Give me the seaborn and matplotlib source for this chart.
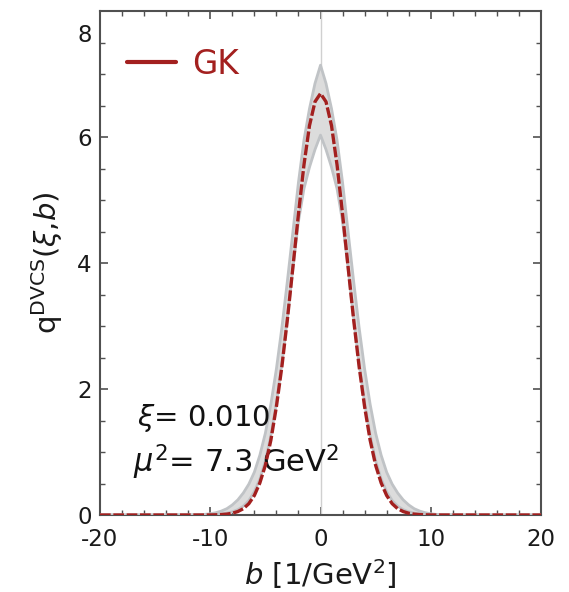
import numpy as np
import pandas as pd
import seaborn as sns
import matplotlib
matplotlib.use("Agg")
import matplotlib.pyplot as plt
from matplotlib.lines import Line2D
from matplotlib.transforms import ScaledTranslation

# impact-parameter grid [1/GeV^2]
b_vals = [-20, -15, -12, -11, -10.5, -10, -9.5, -9, -8.5, -8, -7.5, -7, -6.5, -6,
          -5.5, -5, -4.5, -4, -3.5, -3, -2.5, -2, -1.5, -1, -0.5, 0,
          0.5, 1, 1.5, 2, 2.5, 3, 3.5, 4, 4.5, 5, 5.5, 6, 6.5, 7, 7.5, 8,
          8.5, 9, 9.5, 10, 10.5, 11, 12, 15, 20]

# GK central curve
gk_central = [0, 0, 0, 0, 0, 0.001, 0.003, 0.007, 0.014, 0.028, 0.055, 0.10, 0.18, 0.31,
              0.51, 0.79, 1.19, 1.72, 2.36, 3.11, 3.94, 4.78, 5.56, 6.18, 6.56, 6.69,
              6.56, 6.18, 5.56, 4.78, 3.94, 3.11, 2.36, 1.72, 1.19, 0.79, 0.51, 0.31,
              0.18, 0.10, 0.055, 0.028, 0.014, 0.007, 0.003, 0.001, 0, 0, 0, 0, 0]

# uncertainty band
gk_upper = [0, 0, 0.001, 0.005, 0.01, 0.02, 0.036, 0.062, 0.10, 0.16, 0.24, 0.35, 0.49, 0.68,
            0.95, 1.30, 1.76, 2.32, 2.98, 3.72, 4.50, 5.28, 5.95, 6.45, 6.85, 7.14,
            6.85, 6.45, 5.95, 5.28, 4.50, 3.72, 2.98, 2.32, 1.76, 1.30, 0.95, 0.68,
            0.49, 0.35, 0.24, 0.16, 0.10, 0.062, 0.036, 0.02, 0.01, 0.005, 0.001, 0, 0]
gk_lower = [0, 0, 0, 0, 0.002, 0.004, 0.008, 0.016, 0.03, 0.05, 0.085, 0.14, 0.23, 0.37,
            0.57, 0.86, 1.26, 1.78, 2.40, 3.13, 3.92, 4.66, 5.18, 5.52, 5.80, 6.03,
            5.80, 5.52, 5.18, 4.66, 3.92, 3.13, 2.40, 1.78, 1.26, 0.86, 0.57, 0.37,
            0.23, 0.14, 0.085, 0.05, 0.03, 0.016, 0.008, 0.004, 0.002, 0, 0, 0, 0]

x_major = [-20, -10, 0, 10, 20]
y_major = [0, 2, 4, 6, 8]

sns.set_style("ticks")
plt.rcParams["font.family"] = ["DejaVu Sans"]
plt.rcParams["mathtext.fontset"] = "dejavusans"

df = pd.DataFrame({"b": b_vals, "q": gk_central, "lo": gk_lower, "hi": gk_upper})

fig = plt.figure(figsize=(5.69, 5.92), dpi=100)
ax = fig.add_axes([100 / 569, 1 - 515 / 592, 441 / 569, 504 / 592])

red = "#a3201f"
band_fill = "#dcdcdc"
band_edge = "#c0c3c6"

ax.axvline(0, color="#d0d0d0", lw=1.0, zorder=1)
ax.fill_between(df["b"], df["lo"], df["hi"], color=band_fill, lw=0, zorder=2)
sns.lineplot(data=df, x="b", y="hi", ax=ax, color=band_edge, lw=2.0, zorder=3)
sns.lineplot(data=df, x="b", y="lo", ax=ax, color=band_edge, lw=2.0, zorder=3)
sns.lineplot(data=df, x="b", y="q", ax=ax, color=red, lw=2.4, zorder=4)
ax.lines[-1].set_dashes((3.2, 0.8))

ax.set_xlim(-20, 20)
ax.set_ylim(0, 8)
ax.set_xticks(x_major)
ax.set_xticklabels([str(v) for v in x_major])
ax.set_yticks(y_major)
ax.set_yticklabels([str(v) for v in y_major])
ax.set_xticks(np.arange(-20, 21, 2), minor=True)
ax.set_yticks(np.arange(0, 8.01, 0.5), minor=True)

for s in ax.spines.values():
    s.set_color("#505050")
    s.set_linewidth(1.5)
ax.tick_params(which="both", direction="in", top=True, right=True, color="#505050")
ax.tick_params(which="major", length=6, width=1.2, labelsize=16.5, labelcolor="#1a1a1a")
ax.tick_params(which="minor", length=3.5, width=1.0)
ax.tick_params(axis="x", which="major", pad=9)
ax.tick_params(axis="y", which="major", pad=6)

# top y label sits a little below its tick
top_lab = ax.yaxis.get_major_ticks()[-1].label1
top_lab.set_transform(top_lab.get_transform() + ScaledTranslation(0, -0.22, fig.dpi_scale_trans))

ax.set_xlabel(r"$b$ [1/GeV$^2$]", fontsize=21, color="#1a1a1a", labelpad=5)
ax.set_ylabel(r"q$^{\rm DVCS}$($\xi$,$b$)", fontsize=21, color="#1a1a1a", labelpad=9)

ax.text(0.084, 0.177, r"$\xi$= 0.010", transform=ax.transAxes, fontsize=21,
        color="#111111", va="baseline")
ax.text(0.075, 0.085, r"$\mu^2$= 7.3 GeV$^2$", transform=ax.transAxes, fontsize=22,
        color="#111111", va="baseline")

handle = Line2D([0], [0], color=red, lw=3)
leg = ax.legend(handles=[handle], labels=["GK"], loc="upper left", frameon=False,
                fontsize=23.5, handlelength=1.5, handletextpad=0.5,
                bbox_to_anchor=(0.062, 0.927), borderaxespad=0, borderpad=0)
for t in leg.get_texts():
    t.set_color(red)

fig.savefig("out.png", dpi=100)
